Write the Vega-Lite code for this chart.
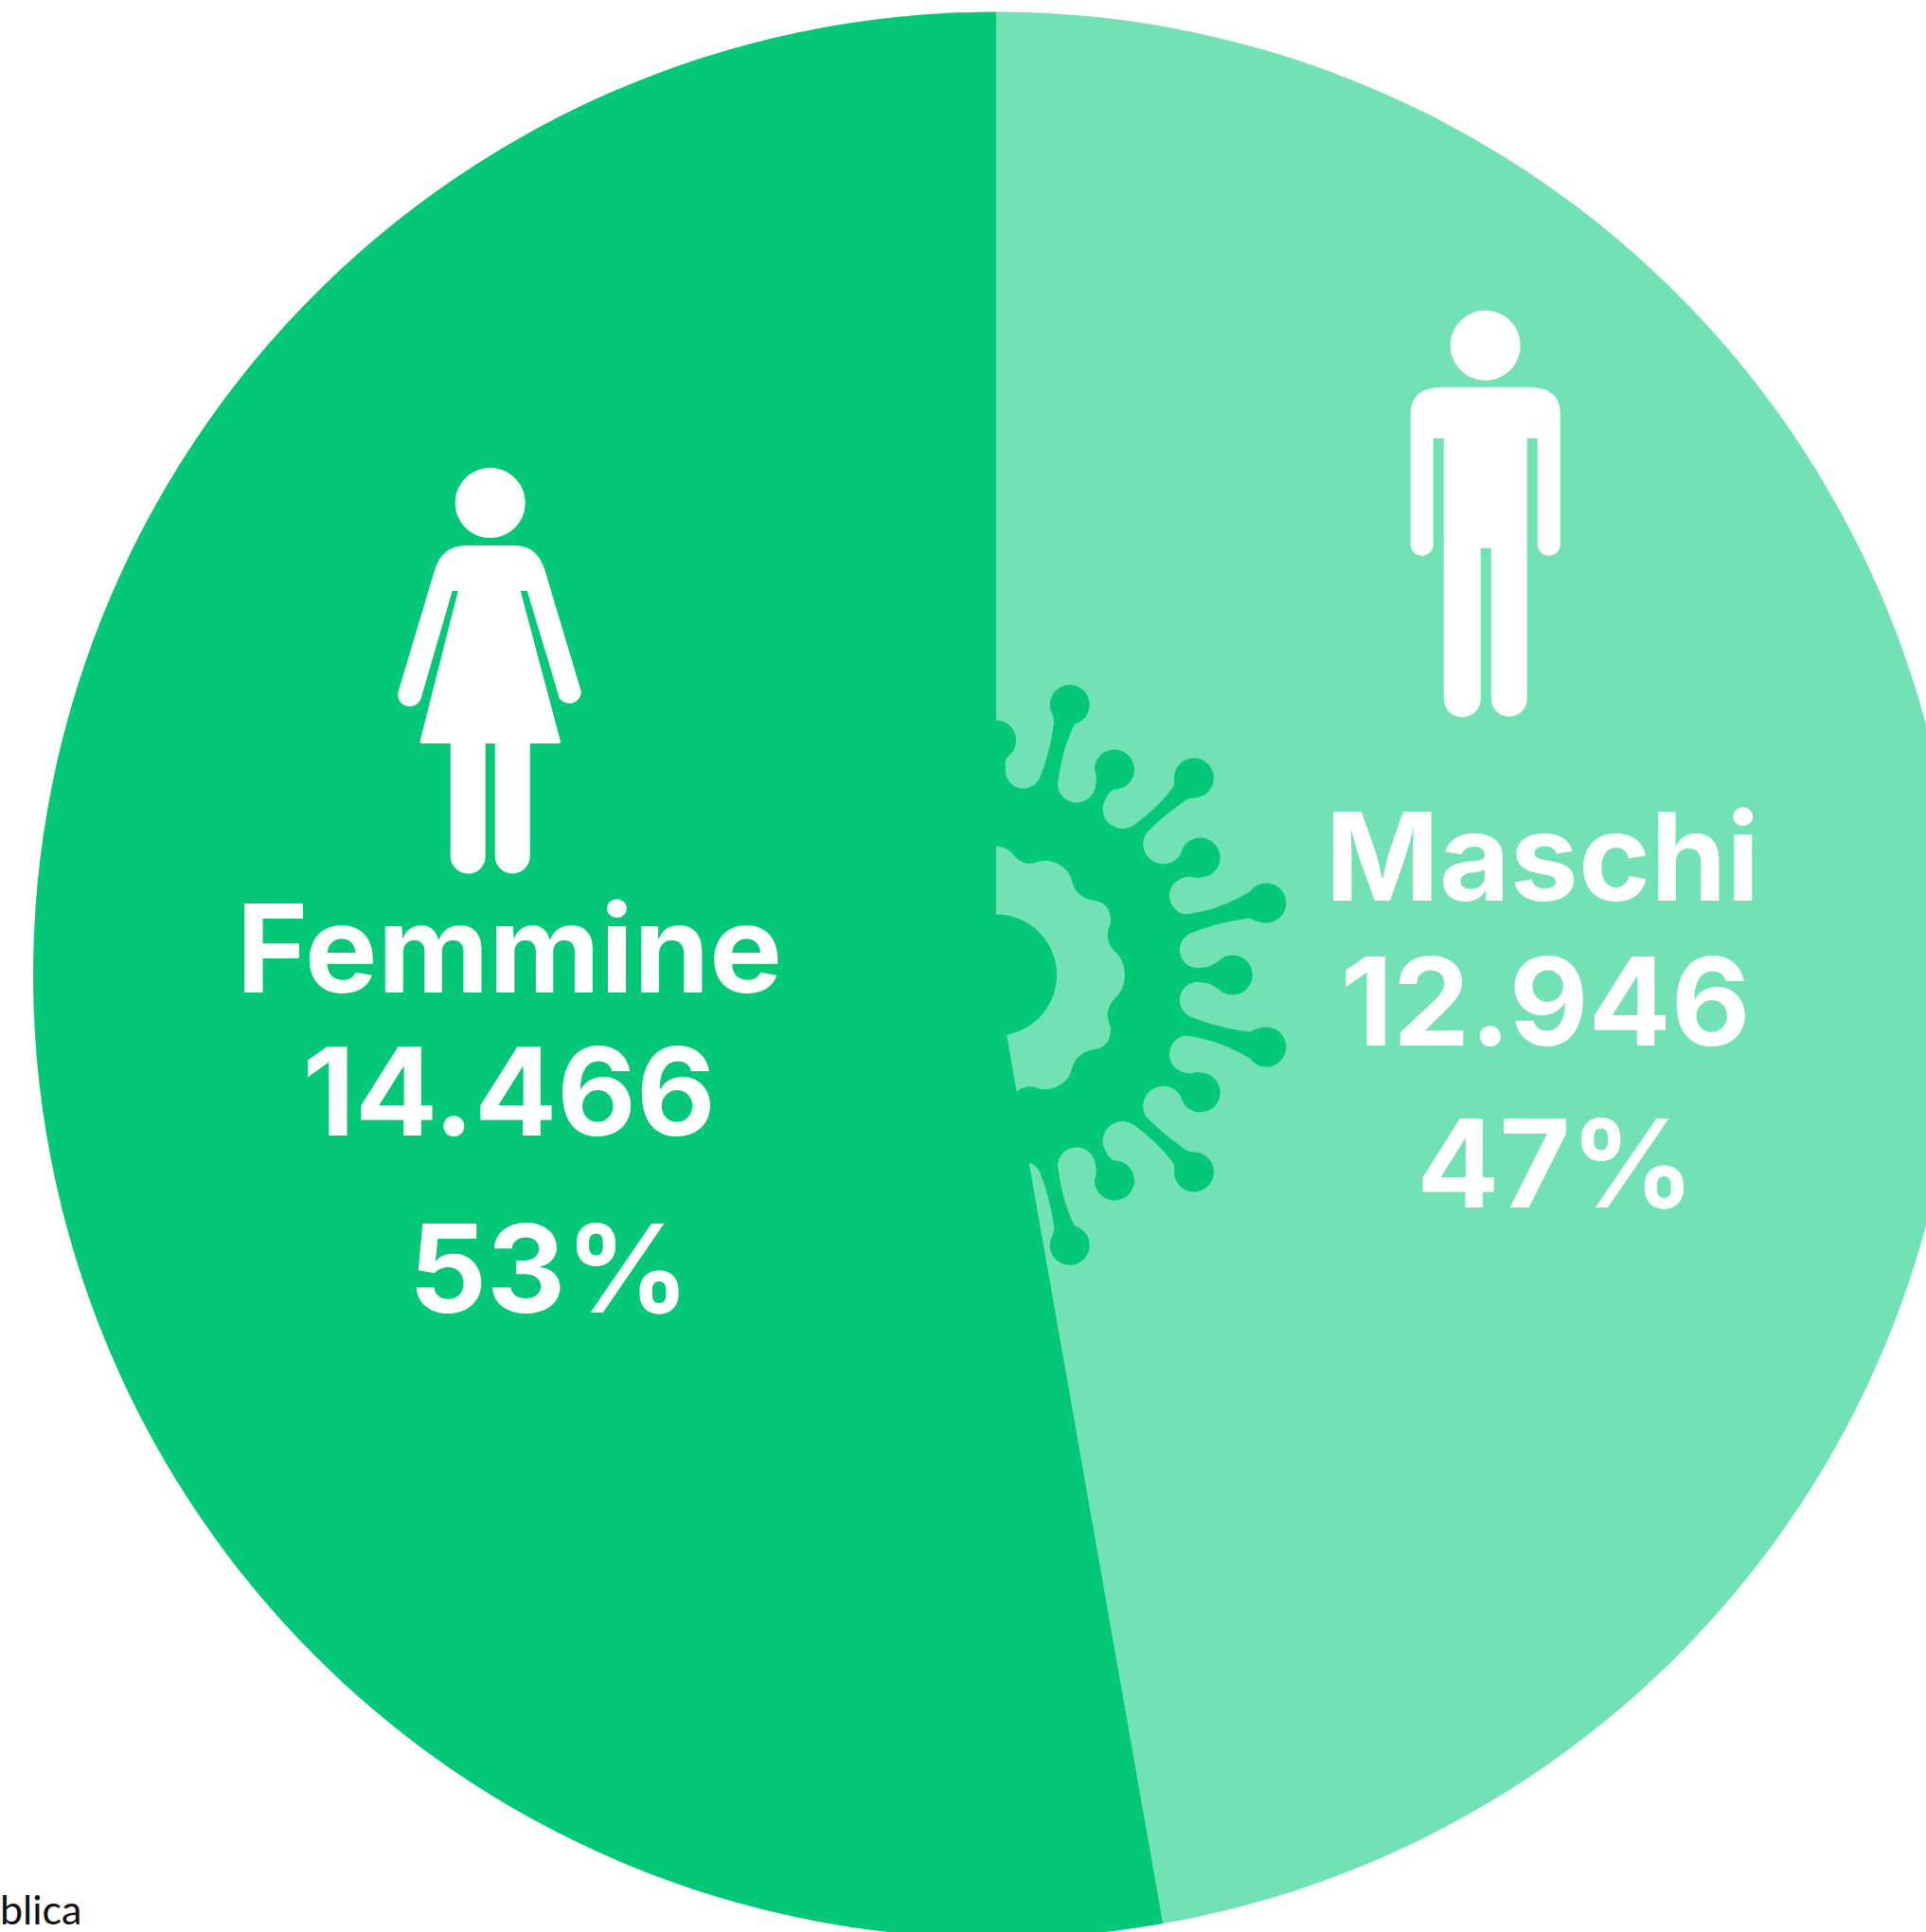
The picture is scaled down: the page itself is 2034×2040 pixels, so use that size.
{
"$schema":"https://vega.github.io/schema/vega-lite/v6.json",
"width":2104,"height":2059,"autosize":"none","padding":0,
"background":"#ffffff",
"view":{"stroke":null},
"data":{"values":[{"genere":"Maschi","casi":12946},{"genere":"Femmine","casi":14466}]},
"transform":[{"stack":"casi","sort":[{"field":"genere","order":"descending"}],"as":["inizio","fine"]}],
"resolve":{"scale":{"color":"independent","shape":"independent"}},
"layer":[
{"transform":[{"filter":"datum.genere==='Maschi'"}],
 "mark":{"type":"arc","radius":1017},
 "encoding":{"theta":{"field":"inizio","type":"quantitative","scale":{"domain":[0,27412],"range":[0,6.283185]}},"theta2":{"field":"fine"},"color":{"field":"genere","type":"nominal","legend":null,"scale":{"domain":["Maschi"],"range":["#72E2B4"]}}}},
{"data":{"values":[{"parte":"virus","px":1052,"py":1029.5},{"parte":"membrana","px":1052,"py":1029.5},{"parte":"nucleo","px":1052,"py":1029.5}]},
 "transform":[],
 "mark":{"type":"point","filled":true,"opacity":1,"size":4},
 "encoding":{
  "x":{"field":"px","type":"quantitative","axis":null,"scale":{"domain":[0,2104],"nice":false,"zero":false}},
  "y":{"field":"py","type":"quantitative","axis":null,"scale":{"domain":[0,2059],"reverse":true,"nice":false,"zero":false}},
  "color":{"field":"parte","type":"nominal","legend":null,"scale":{"domain":["virus","membrana","nucleo"],"range":["#04C877","#72E2B4","#04C877"]}},
  "shape":{"field":"parte","type":"nominal","legend":null,"scale":{"domain":["virus","membrana","nucleo"],"range":[
   "M0,-269 A21 21 0 0 1 21,-248 Q21,-238 14,-232 Q8,-227 10,-219 A19 19 0 0 0 46,-208 Q56,-232 61,-265 Q62,-272 58,-278 A21 21 0 1 1 83,-265 Q70,-240 65,-202 A20 20 0 0 0 105,-202 Q107,-208 104,-217 A21 21 0 1 1 125,-196 Q118,-194 113,-180 A21 21 0 0 0 145,-158 Q170,-176 186,-197 Q189,-201 188,-206 A21 21 0 1 1 209,-187 Q203,-187 198,-183 Q175,-167 158,-149 A21 21 0 0 0 195,-128 A21 21 0 1 1 216,-103 Q210,-102 205,-104 Q196,-104 188,-97 A20 20 0 0 0 200,-64 Q235,-68 268,-88 A21 21 0 1 1 286,-55 Q277,-55 268,-60 Q235,-56 208,-45 A19 19 0 0 0 218,-8 Q226,-8 235,-15 A21 21 0 1 1 235,15 Q226,8 218,8 A19 19 0 0 0 208,45 Q235,56 268,60 Q277,55 286,55 A21 21 0 1 1 268,88 Q235,68 200,64 A20 20 0 0 0 188,97 Q196,104 205,104 Q210,102 216,103 A21 21 0 1 1 195,128 A21 21 0 0 0 158,149 Q175,167 198,183 Q203,187 209,187 A21 21 0 1 1 188,206 Q189,201 186,197 Q170,176 145,158 A21 21 0 0 0 113,180 Q118,194 125,196 A21 21 0 1 1 104,217 Q107,208 105,202 A20 20 0 0 0 65,202 Q70,240 83,265 A21 21 0 1 1 58,278 Q62,272 61,265 Q56,232 46,208 A19 19 0 0 0 10,219 Q8,227 14,232 Q21,238 21,248 A21 21 0 0 1 0,269 L-40,269 L-40,-269 Z",
   "M0,-136 Q13,-135 20,-125 Q28,-116 40,-118 Q52,-124 66,-117 Q78,-110 80,-99 Q84,-83 101,-79 Q122,-77 121,-55 Q113,-40 124,-26 Q136,-16 136,0 Q136,16 124,26 Q113,40 121,55 Q122,77 101,79 Q84,83 80,99 Q78,110 66,117 Q52,124 40,118 Q28,116 20,125 Q13,135 0,136 L-30,136 L-30,-136 Z",
   "M-64,0 A64 64 0 1 1 64,0 A64 64 0 1 1 -64,0 Z"
  ]}}
 }},
{"transform":[{"filter":"datum.genere==='Femmine'"}],
 "mark":{"type":"arc","radius":1017},
 "encoding":{"theta":{"field":"inizio","type":"quantitative","scale":{"domain":[0,27412],"range":[0,6.283185]}},"theta2":{"field":"fine"},"color":{"field":"genere","type":"nominal","legend":null,"scale":{"domain":["Femmine"],"range":["#04C877"]}}}},
{"data":{"values":[{"figura":"donna","px":517.7,"py":531},{"figura":"uomo","px":1568.7,"py":364.7}]},
 "transform":[],
 "mark":{"type":"point","filled":true,"opacity":1,"size":4,"color":"#ffffff"},
 "encoding":{
  "x":{"field":"px","type":"quantitative","axis":null,"scale":{"domain":[0,2104],"nice":false,"zero":false}},
  "y":{"field":"py","type":"quantitative","axis":null,"scale":{"domain":[0,2059],"reverse":true,"nice":false,"zero":false}},
  "shape":{"field":"figura","type":"nominal","legend":null,"scale":{"domain":["donna","uomo"],"range":[
   "M0,-37 A37 37 0 1 1 0,37 A37 37 0 1 1 0,-37 Z M-26,45 L26,45 Q50,45 58,72 L96,199 A12.5 12.5 0 0 1 73,206 L39,93 L32,93 L74,251 Q75,254 72,254 L42,254 L42,373 A18.5 18.5 0 0 1 5,373 L5,254 L-5,254 L-5,373 A18.5 18.5 0 0 1 -42,373 L-42,254 L-72,254 Q-75,254 -74,251 L-34,93 L-40,93 L-73,206 A12.5 12.5 0 0 1 -97,199 L-59,72 Q-51,45 -26,45 Z",
   "M0,-37 A37 37 0 1 1 0,37 A37 37 0 1 1 0,-37 Z M-44,44 L45,44 Q79,44 79,72 L79,210 A12 12 0 0 1 55,210 L55,98 L44,98 L44,373 A19 19 0 0 1 6,373 L6,214 L-5,214 L-5,373 A19.5 19.5 0 0 1 -44,373 L-44,98 L-55,98 L-55,210 A12 12 0 0 1 -79,210 L-79,72 Q-79,44 -44,44 Z"
  ]}}
 }},
{"data":{"values":[
 {"testo":"Femmine","px":538,"py":1048},
 {"testo":"14.466","px":537.5,"py":1198.6},
 {"testo":"53%","px":580,"py":1386},
 {"testo":"Maschi","px":1629,"py":951},
 {"testo":"12.946","px":1632,"py":1103.6},
 {"testo":"47%","px":1643,"py":1275}
 ]},
 "transform":[],
 "mark":{"type":"text","font":"Inter","fontWeight":"bold","fontSize":129,"color":"#ffffff","align":"center","baseline":"alphabetic"},
 "encoding":{
  "x":{"field":"px","type":"quantitative","axis":null,"scale":{"domain":[0,2104],"nice":false,"zero":false}},
  "y":{"field":"py","type":"quantitative","axis":null,"scale":{"domain":[0,2059],"reverse":true,"nice":false,"zero":false}},
  "text":{"field":"testo"}
 }},
{"data":{"values":[{"testo":"blica","px":0,"py":2032}]},
 "transform":[],
 "mark":{"type":"text","font":"Lato","fontSize":43,"color":"#111111","align":"left","baseline":"alphabetic"},
 "encoding":{
  "x":{"field":"px","type":"quantitative","axis":null,"scale":{"domain":[0,2104],"nice":false,"zero":false}},
  "y":{"field":"py","type":"quantitative","axis":null,"scale":{"domain":[0,2059],"reverse":true,"nice":false,"zero":false}},
  "text":{"field":"testo"}
 }}
]
}
